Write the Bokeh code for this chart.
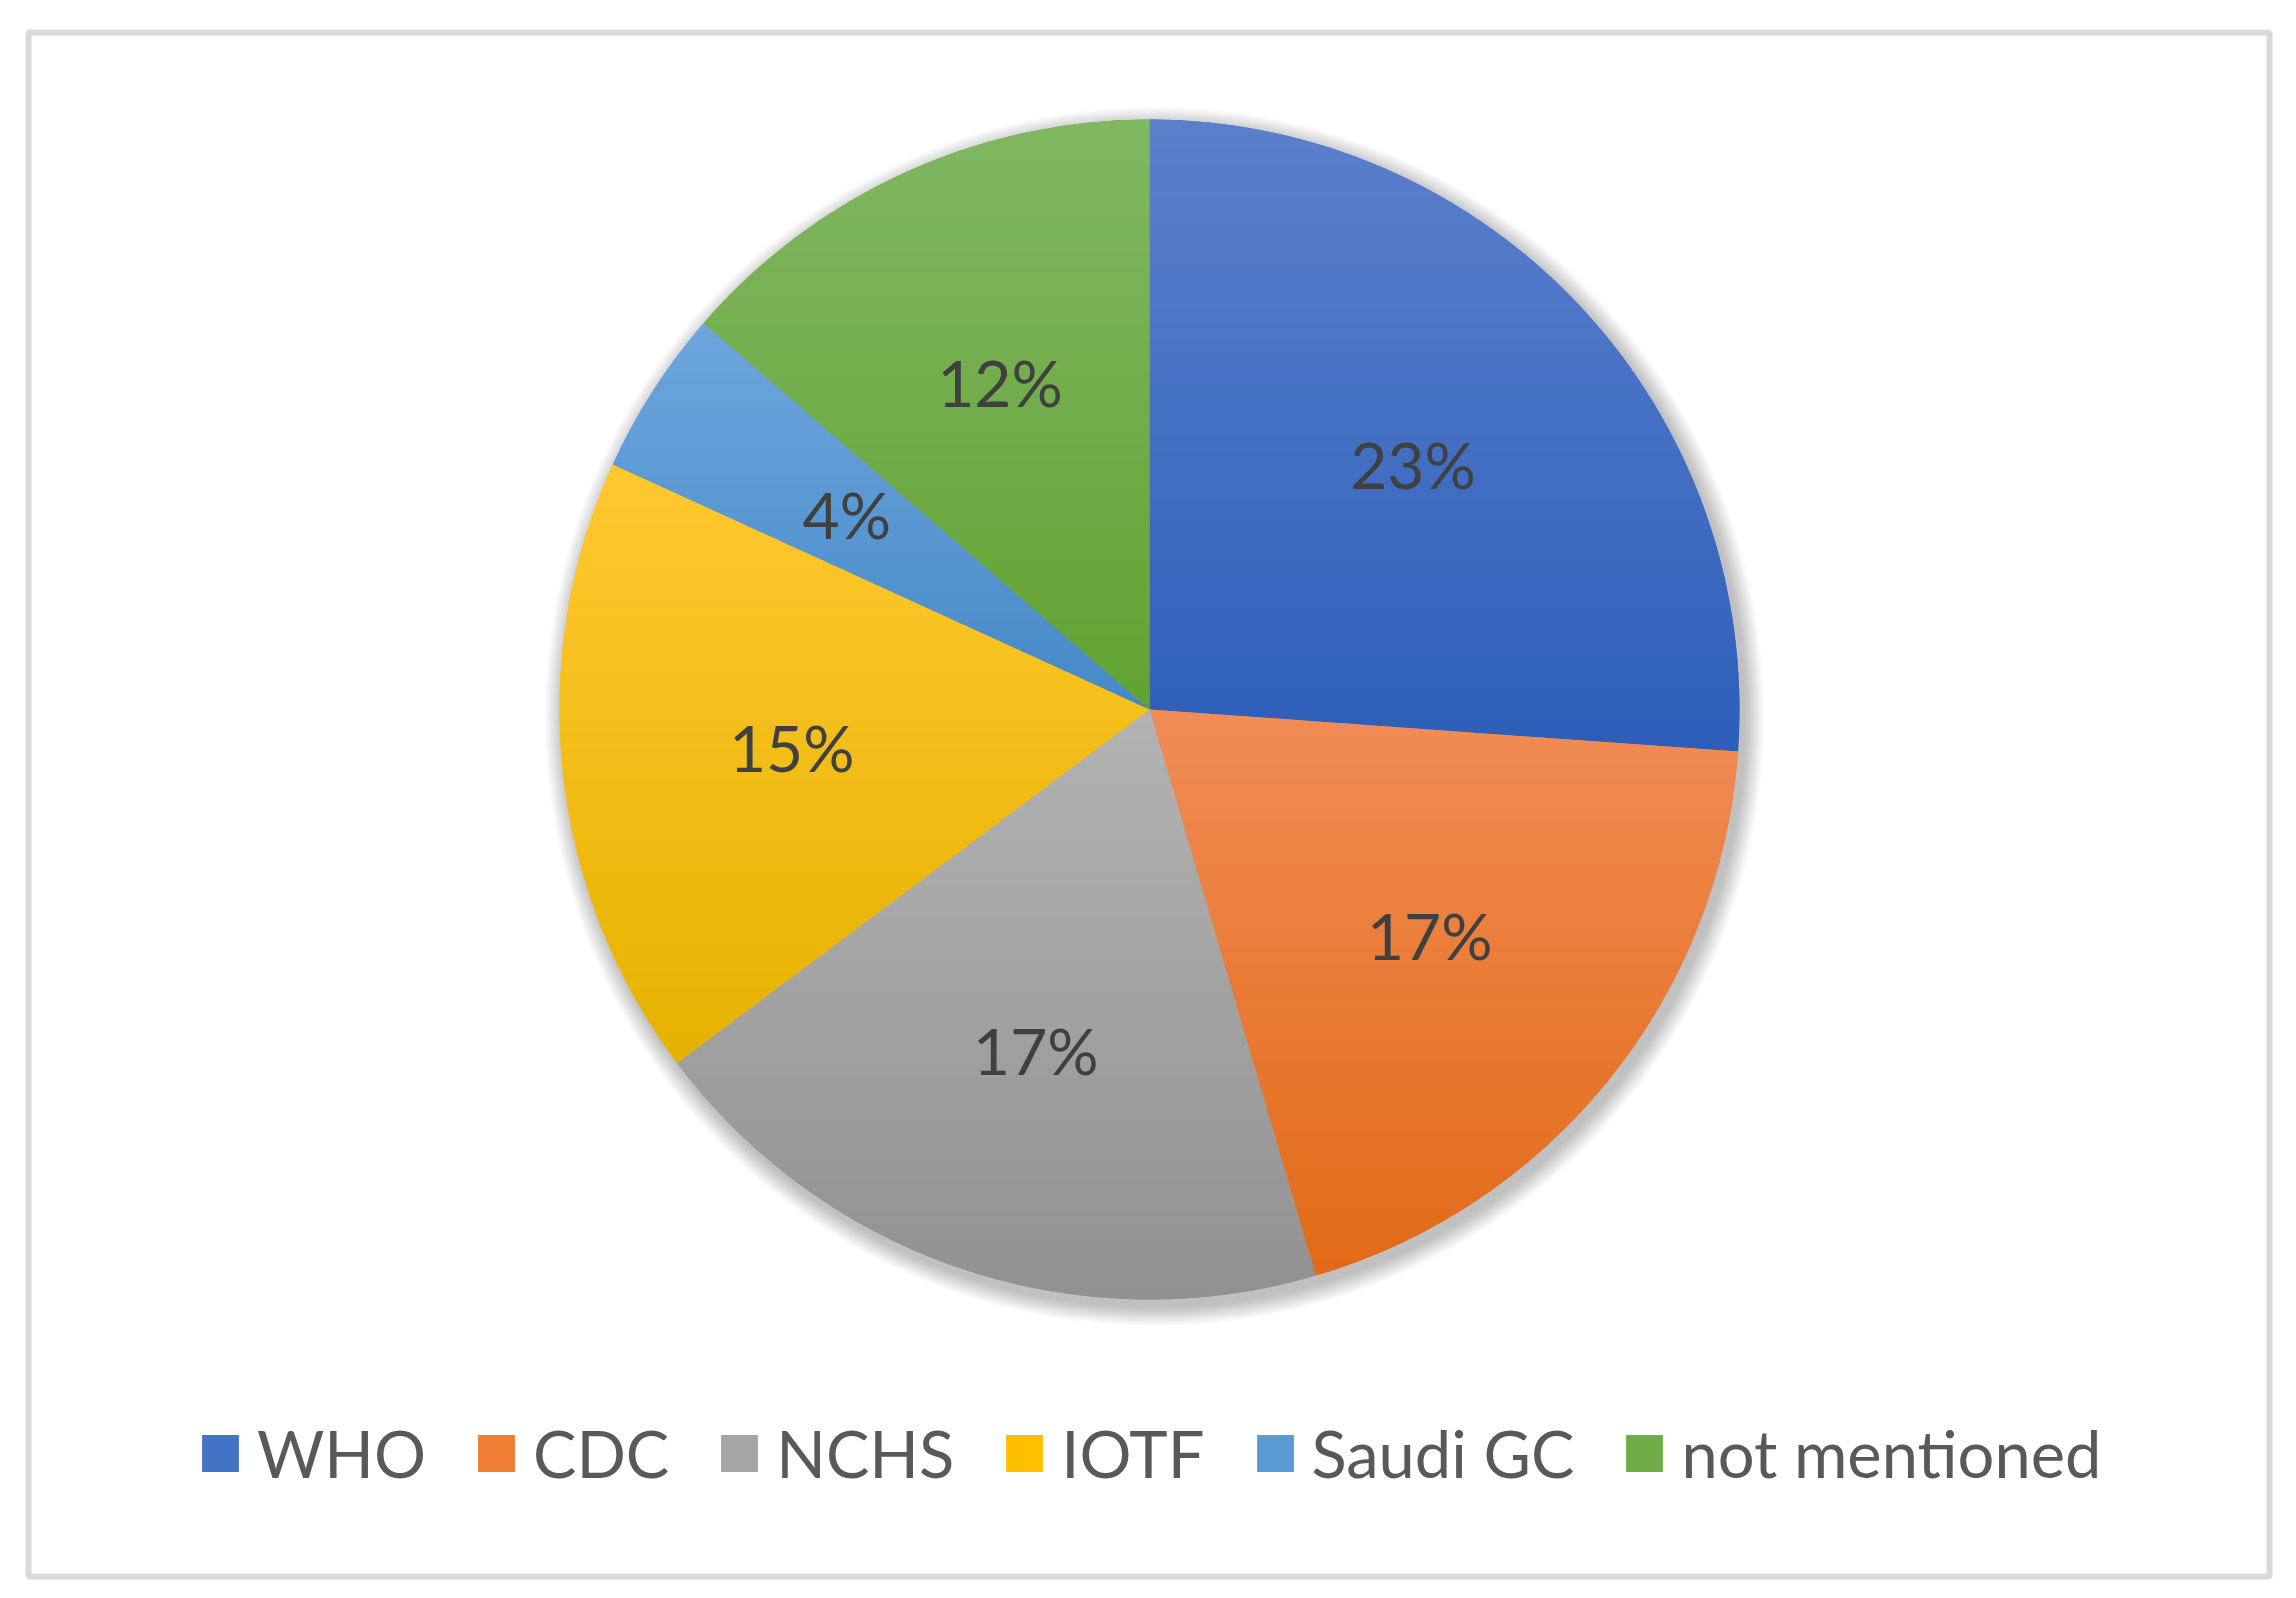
import numpy as np
from bokeh.plotting import figure
from bokeh.models import ColumnDataSource, Legend, LegendItem
from bokeh.core.properties import value
from bokeh.embed import file_html
from bokeh.resources import INLINE

# ---- data ----
categories = ["WHO", "CDC", "NCHS", "IOTF", "Saudi GC", "not mentioned"]
counts = [23, 17, 17, 15, 4, 12]
pct_labels = [f"{c}%" for c in counts]

# ---- style ----
base_colors = ["#4472c4", "#ed7d31", "#a5a5a5", "#ffc000", "#5b9bd5", "#70ad47"]
top_colors = ["#5b80cc", "#f18c55", "#b3b3b3", "#ffc830", "#6ea6dd", "#80b862"]
bottom_colors = ["#2c5fba", "#e26a17", "#919191", "#e6b200", "#4589c8", "#62a232"]

W, H = 2280, 1580
CX, CY, R = 1149, 871, 590

p = figure(width=W, height=H, x_range=(0, W), y_range=(0, H),
           output_backend="svg", toolbar_location=None, min_border=0,
           x_axis_location=None, y_axis_location=None)
p.grid.visible = False
p.outline_line_color = None
p.background_fill_color = "white"
p.border_fill_color = "white"

# chart frame
p.quad(left=28, right=2269, bottom=4, top=1548, fill_color=None,
       line_color="#d9d9d9", line_width=6)

# soft shadow
shadow_r = [R + 1.5 * k for k in range(1, 14)]
p.circle(x=[CX + 5] * len(shadow_r), y=[CY - 7] * len(shadow_r), radius=shadow_r,
         fill_color="black", fill_alpha=0.02, line_color=None)

# angles
vals = np.array(counts, dtype=float)
frac = vals / vals.sum()
cum = np.cumsum(frac)
start = np.pi / 2 - 2 * np.pi * (cum - frac)
end = np.pi / 2 - 2 * np.pi * cum

src = ColumnDataSource(dict(cat=categories, start=start, end=end, color=base_colors))
wr = p.wedge(x=CX, y=CY, radius=R, start_angle="start", end_angle="end",
             direction="clock", fill_color="color", line_color=None, source=src)


def hex2rgb(h):
    h = h.lstrip("#")
    return np.array([int(h[i:i + 2], 16) for i in (0, 2, 4)], dtype=float)


def rgb2hex(c):
    c = np.clip(np.round(c), 0, 255).astype(int)
    return "#%02x%02x%02x" % tuple(c)


def clip_half(pts, yc, keep_above):
    out = []
    n = len(pts)
    for i in range(n):
        a = pts[i]
        b = pts[(i + 1) % n]
        ina = a[1] >= yc if keep_above else a[1] <= yc
        inb = b[1] >= yc if keep_above else b[1] <= yc
        if ina:
            out.append(a)
        if ina != inb:
            t = (yc - a[1]) / (b[1] - a[1])
            out.append((a[0] + t * (b[0] - a[0]), yc))
    return out


# vertical gradient per slice, as horizontal bands
NB = 40
bxs, bys, bcols = [], [], []
for i in range(len(counts)):
    th = np.linspace(start[i], end[i], 200)
    poly = [(CX, CY)] + [(CX + R * np.cos(t), CY + R * np.sin(t)) for t in th]
    ys_ = [q[1] for q in poly]
    ymin, ymax = min(ys_), max(ys_)
    c0, c1 = hex2rgb(top_colors[i]), hex2rgb(bottom_colors[i])
    edges = np.linspace(ymax, ymin, NB + 1)
    for k in range(NB):
        yt, yb = edges[k] + 0.6, edges[k + 1] - 0.6
        part = clip_half(poly, yt, False)
        if not part:
            continue
        part = clip_half(part, yb, True)
        if len(part) < 3:
            continue
        t = (k + 0.5) / NB
        bxs.append([q[0] for q in part])
        bys.append([q[1] for q in part])
        bcols.append(rgb2hex(c0 + (c1 - c0) * t))

p.patches(xs=bxs, ys=bys, fill_color=bcols, line_color=None)

# percent labels
mid = (start + end) / 2
lab_src = ColumnDataSource(dict(x=CX + 0.61 * R * np.cos(mid), y=CY + 0.61 * R * np.sin(mid),
                                text=pct_labels))
p.text(x="x", y="y", text="text", source=lab_src, text_font=value("Lato"),
       text_font_size="64px", text_color="#404040", text_align="center",
       text_baseline="middle")

# legend
items = [LegendItem(label=c, renderers=[wr], index=i) for i, c in enumerate(categories)]
legend = Legend(items=items, orientation="horizontal", location=(197, 88),
                glyph_width=46, glyph_height=46, label_standoff=14, spacing=47,
                label_text_font="Lato", label_text_font_size="65px",
                label_text_color="#595959", border_line_color=None,
                background_fill_alpha=0, padding=0, margin=0)
p.add_layout(legend)

open("out.html", "w").write(file_html(p, INLINE))
